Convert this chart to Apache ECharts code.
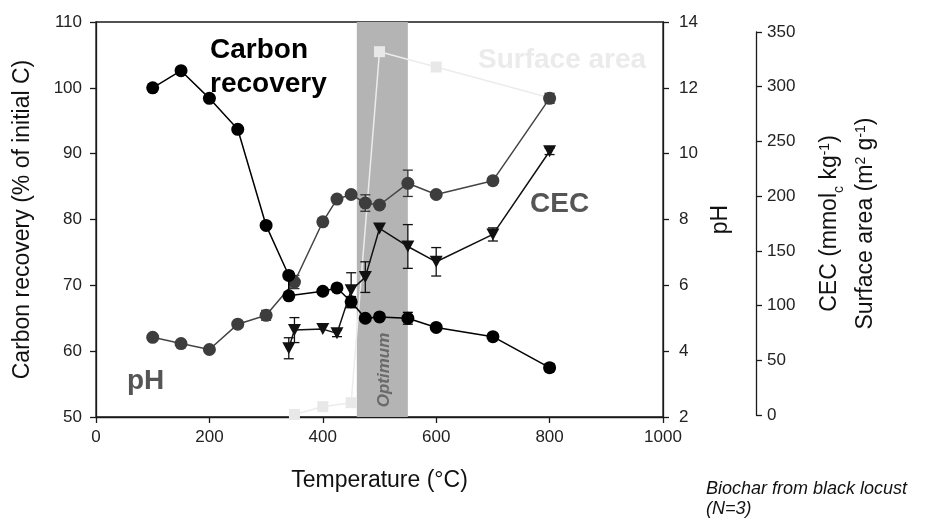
<!DOCTYPE html>
<html>
<head>
<meta charset="utf-8">
<script src="https://cdn.jsdelivr.net/npm/echarts@6/dist/echarts.min.js"></script>
<style>
  html, body { margin: 0; padding: 0; background: #fff; }
  #chart { width: 933px; height: 520px; }
</style>
</head>
<body>
<div id="chart"></div>
<script>
// temperature (°C) for each series
var carbonTemp = [100, 150, 200, 250, 300, 340, 340, 400, 425, 450, 475, 500, 550, 600, 700, 800];
var carbonVal  = [100, 102.6, 98.4, 93.7, 79.1, 71.5, 68.4, 69.1, 69.6, 67.5, 65.0, 65.2, 65.0, 63.6, 62.2, 57.5];
var carbonSd   = [0, 0, 0, 0, 0, 0.6, 0, 0, 0, 0.8, 0, 0, 0.9, 0, 0, 0.6];

var phTemp = [100, 150, 200, 250, 300, 350, 400, 425, 450, 475, 500, 550, 600, 700, 800];
var phVal  = [4.42, 4.23, 4.05, 4.82, 5.09, 6.1, 7.93, 8.62, 8.76, 8.5, 8.44, 9.1, 8.76, 9.18, 11.68];
var phSd   = [0, 0, 0, 0, 0.15, 0.2, 0.1, 0, 0, 0.25, 0, 0.4, 0, 0, 0.15];

var cecTemp = [340, 350, 400, 425, 450, 475, 500, 550, 600, 700, 800];
var cecVal  = [61, 77.6, 78.5, 74.6, 114, 126, 170.5, 154, 140, 165, 241];
var cecSd   = [9.6, 11.4, 0, 3, 16, 14, 0, 20, 13, 6, 3];

var saTemp = [350, 400, 450, 500, 600, 800];
var saVal  = [0.5, 7.6, 11.2, 332, 318, 290];

var optimum = [460, 550];

var FONT = '"Liberation Sans", Arial, sans-serif';

function pairs(xs, ys) {
  return xs.map(function (x, i) { return [x, ys[i]]; });
}
function errData(xs, ys, sd) {
  var out = [];
  xs.forEach(function (x, i) {
    if (sd[i] > 0) out.push([x, ys[i] - sd[i], ys[i] + sd[i]]);
  });
  return out;
}
function errSeries(data, xi, yi, color) {
  return {
    type: 'custom',
    xAxisIndex: xi, yAxisIndex: yi,
    z: 4,
    silent: true,
    data: data,
    renderItem: function (params, api) {
      var lo = api.coord([api.value(0), api.value(1)]);
      var hi = api.coord([api.value(0), api.value(2)]);
      var w = 5;
      var st = { stroke: color, lineWidth: 1.3 };
      return {
        type: 'group',
        children: [
          { type: 'line', shape: { x1: lo[0], y1: lo[1], x2: hi[0], y2: hi[1] }, style: st },
          { type: 'line', shape: { x1: lo[0] - w, y1: lo[1], x2: lo[0] + w, y2: lo[1] }, style: st },
          { type: 'line', shape: { x1: hi[0] - w, y1: hi[1], x2: hi[0] + w, y2: hi[1] }, style: st }
        ]
      };
    }
  };
}

var axisLine = { show: true, onZero: false, lineStyle: { color: '#1a1a1a', width: 1.3 } };
var axisTick = { show: true, inside: false, length: 6, lineStyle: { color: '#1a1a1a', width: 1.3 } };
var tickFont = { fontFamily: FONT, fontSize: 17, color: '#222' };
var nameFont = { fontFamily: FONT, fontSize: 23, color: '#111' };
var plain = function (v) { return String(v); };

var myChart = echarts.init(document.getElementById('chart'));

var option = {
  animation: false,
  grid: [
    { left: 96, right: 270, top: 22, bottom: 103, show: true, borderColor: '#1a1a1a', borderWidth: 1.3, backgroundColor: 'transparent' },
    { left: 96, right: 270, top: 32, bottom: 105 }
  ],
  xAxis: [
    {
      gridIndex: 0, type: 'value', min: 0, max: 1000, interval: 200,
      axisLine: axisLine, axisTick: axisTick, splitLine: { show: false },
      axisLabel: Object.assign({ margin: 12, formatter: plain }, tickFont),
      name: 'Temperature (°C)', nameLocation: 'middle', nameGap: 52,
      nameTextStyle: nameFont
    },
    { gridIndex: 1, type: 'value', min: 0, max: 1000, show: false, axisLine: { onZero: false } }
  ],
  yAxis: [
    {
      gridIndex: 0, type: 'value', position: 'left', min: 50, max: 110, interval: 10,
      axisLine: axisLine, axisTick: axisTick, splitLine: { show: false },
      axisLabel: Object.assign({ margin: 14 }, tickFont),
      name: 'Carbon recovery (% of initial C)', nameLocation: 'middle', nameRotate: 90, nameGap: 62,
      nameTextStyle: nameFont
    },
    {
      gridIndex: 0, type: 'value', position: 'right', min: 2, max: 14, interval: 2,
      axisLine: axisLine, axisTick: axisTick, splitLine: { show: false },
      axisLabel: Object.assign({ margin: 16 }, tickFont),
      name: 'pH', nameLocation: 'middle', nameRotate: 90, nameGap: 44,
      nameTextStyle: nameFont
    },
    {
      gridIndex: 1, type: 'value', position: 'right', offset: 93, min: 0, max: 350, interval: 50,
      axisLine: axisLine, axisTick: axisTick, splitLine: { show: false },
      axisLabel: Object.assign({ margin: 11 }, tickFont),
      name: '{t|CEC (mmol}{sub|c}{t| kg}{sup|-1}{t|)}\n{t|Surface area (m}{sup|2}{t| g}{sup|-1}{t|)}',
      nameLocation: 'middle', nameRotate: 90, nameGap: 56,
      nameTextStyle: {
        fontFamily: FONT, fontSize: 23, color: '#111',
        rich: {
          t: { fontFamily: FONT, fontSize: 23, color: '#111', lineHeight: 36 },
          sup: { fontFamily: FONT, fontSize: 14, color: '#111', lineHeight: 14, verticalAlign: 'top', padding: [6, 0, 0, 0] },
          sub: { fontFamily: FONT, fontSize: 14, color: '#111', lineHeight: 14, verticalAlign: 'bottom', padding: [0, 0, 2, 0] }
        }
      }
    }
  ],
  series: [
    {
      name: 'band', type: 'line', xAxisIndex: 0, yAxisIndex: 0, data: [], z: 1,
      markArea: {
        silent: true,
        itemStyle: { color: '#b4b4b4' },
        data: [[{ xAxis: optimum[0] }, { xAxis: optimum[1] }]]
      }
    },
    {
      name: 'Surface area', type: 'line', xAxisIndex: 1, yAxisIndex: 2, z: 3,
      data: pairs(saTemp, saVal),
      symbol: 'rect', symbolSize: 11,
      itemStyle: { color: '#e8e8e8' },
      lineStyle: { color: '#ececec', width: 1.5 }
    },
    {
      name: 'pH', type: 'line', xAxisIndex: 0, yAxisIndex: 1, z: 5,
      data: pairs(phTemp, phVal),
      symbol: 'circle', symbolSize: 13,
      itemStyle: { color: '#3d3d3d' },
      lineStyle: { color: '#444', width: 1.5 }
    },
    {
      name: 'CEC', type: 'line', xAxisIndex: 1, yAxisIndex: 2, z: 5,
      data: pairs(cecTemp, cecVal),
      symbol: 'triangle', symbolRotate: 180, symbolSize: [13, 12],
      itemStyle: { color: '#111' },
      lineStyle: { color: '#111', width: 1.5 }
    },
    {
      name: 'Carbon recovery', type: 'line', xAxisIndex: 0, yAxisIndex: 0, z: 6,
      data: pairs(carbonTemp, carbonVal),
      symbol: 'circle', symbolSize: 13,
      itemStyle: { color: '#000' },
      lineStyle: { color: '#000', width: 1.5 }
    },
    errSeries(errData(phTemp, phVal, phSd), 0, 1, '#333'),
    errSeries(errData(cecTemp, cecVal, cecSd), 1, 2, '#111'),
    errSeries(errData(carbonTemp, carbonVal, carbonSd), 0, 0, '#000')
  ],
  graphic: [
    { type: 'text', left: 210, top: 33, z: 10,
      style: { text: 'Carbon\nrecovery', font: 'bold 28px ' + FONT, fill: '#000', lineHeight: 34 } },
    { type: 'text', left: 478, top: 46, z: 10,
      style: { text: 'Surface area', font: 'bold 28px ' + FONT, fill: '#ebebeb' } },
    { type: 'text', left: 530, top: 190, z: 10,
      style: { text: 'CEC', font: 'bold 28px ' + FONT, fill: '#555' } },
    { type: 'text', left: 127, top: 367, z: 10,
      style: { text: 'pH', font: 'bold 28px ' + FONT, fill: '#555' } },
    { type: 'text', x: 384, y: 370, rotation: Math.PI / 2, z: 10,
      style: { text: 'Optimum', font: 'italic bold 17px ' + FONT, fill: '#6a6a6a', align: 'center', verticalAlign: 'middle' } },
    { type: 'text', left: 706, top: 479, z: 10,
      style: { text: 'Biochar from black locust\n(N=3)', font: 'italic 18px ' + FONT, fill: '#111', lineHeight: 20 } }
  ]
};

myChart.setOption(option);
</script>
</body>
</html>
